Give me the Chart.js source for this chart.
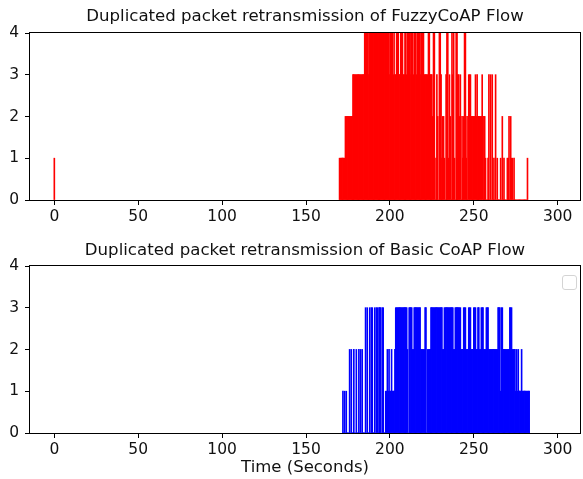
<!DOCTYPE html>
<html>
<head>
<meta charset="utf-8">
<script src="https://cdn.jsdelivr.net/npm/chart.js@4.4.1/dist/chart.umd.min.js"></script>
<style>
  html, body { margin: 0; padding: 0; background: #fff; }
  #wrap { position: relative; width: 583px; height: 479px; overflow: hidden; }
  canvas { position: absolute; left: 0; }
  #fuzzyCanvas { top: 0; }
  #basicCanvas { top: 233px; }
</style>
</head>
<body>
<div id="wrap">
  <canvas id="fuzzyCanvas" width="583" height="233" style="width:583px;height:233px"></canvas>
  <canvas id="basicCanvas" width="583" height="246" style="width:583px;height:246px"></canvas>
</div>
<script>
// Duplicated retransmissions counted in half-second slots.
const slotWidth = 0.5;          // seconds per slot
const xTicks = [0, 50, 100, 150, 200, 250, 300];
const yTicks = [0, 1, 2, 3, 4];

const fuzzyTitle = 'Duplicated packet retransmission of FuzzyCoAP Flow';
const basicTitle = 'Duplicated packet retransmission of Basic CoAP Flow';
const xAxisLabel = 'Time (Seconds)';

// FuzzyCoAP: one isolated retransmission at start-up
const fuzzyEarlyTimes = [0];
const fuzzyEarlyCounts = [1];

// FuzzyCoAP: burst starting at 170 s (one row = 5 s)
const fuzzyStart = 170;
const fuzzyCounts = [
  1,1,1,1,1,1,1,2,2,2,
  2,2,2,2,2,2,3,3,3,3,
  3,3,3,3,3,3,3,3,3,3,
  4,4,4,4,4,3,4,4,4,4,
  4,4,4,4,4,4,4,4,4,4,
  4,4,4,4,4,4,4,4,4,4,
  3,4,4,4,3,4,3,3,4,4,
  4,3,3,4,4,4,3,3,4,4,
  3,4,4,4,3,4,4,4,3,4,
  4,4,3,4,4,4,3,4,4,4,
  4,3,3,3,3,3,4,4,3,3,
  3,2,4,4,0,1,3,2,0,4,
  4,3,1,2,2,1,0,3,4,4,
  1,3,2,0,4,3,4,1,0,4,
  4,3,3,2,3,0,2,1,2,4,
  4,1,2,0,3,3,3,2,2,2,
  2,2,3,2,3,2,2,2,2,2,
  3,0,2,2,1,0,0,1,3,0,
  3,0,3,0,1,0,3,0,1,0,
  0,0,1,0,2,0,1,0,0,0,
  1,1,2,0,2,1,1,0,1,0,
  0,0,0,0,0,0,0,0,0,0,
  0,0,0,0,1
];

// Basic CoAP: burst starting at 172 s (one row = 5 s)
const basicStart = 172;
const basicCounts = [
  1,0,1,0,1,0,0,0,2,0,
  2,0,0,2,0,0,2,0,0,2,
  0,2,0,2,0,0,0,3,0,3,
  0,0,3,0,3,3,0,0,3,0,
  3,3,0,3,3,3,0,3,3,0,
  0,1,1,2,1,2,1,1,2,1,
  1,1,2,3,3,3,3,3,3,3,
  3,3,3,3,3,3,3,2,0,3,
  3,3,3,2,2,3,3,3,3,3,
  3,3,3,2,2,2,2,2,3,3,
  0,2,2,2,2,3,3,3,3,3,
  3,3,3,3,3,3,3,3,3,2,
  2,3,3,3,3,3,3,3,3,3,
  3,3,2,2,3,3,3,3,3,3,
  3,2,2,2,3,3,3,2,2,2,
  3,3,3,2,2,2,3,3,3,2,
  2,3,3,2,2,3,3,3,2,2,
  2,3,3,3,2,2,2,2,2,2,
  2,2,2,2,2,3,3,3,1,3,
  3,2,2,2,2,2,2,2,2,3,
  3,3,2,2,2,2,1,2,1,2,
  1,1,1,2,1,1,1,1,1,1,
  1,1,1
];

const fontFamily = "'DejaVu Sans', 'Liberation Sans', sans-serif";
const ink = '#111111';

function slotTimes(start, counts) {
  return counts.map((_, i) => start + i * slotWidth);
}

function toPoints(times, counts) {
  return times.map((t, i) => ({ x: t, y: counts[i] }));
}

// Box round the plotting area (all four spines)
const framePlugin = {
  id: 'frame',
  afterDatasetsDraw(chart) {
    const { ctx, chartArea: a } = chart;
    ctx.save();
    ctx.strokeStyle = '#000';
    ctx.lineWidth = 1;
    ctx.strokeRect(a.left - 0.5, a.top - 0.5, a.right - a.left + 1, a.bottom - a.top + 1);
    ctx.restore();
  }
};

// Empty legend frame in the upper-right corner
const emptyLegendPlugin = {
  id: 'emptyLegend',
  afterDraw(chart, args, opts) {
    if (!opts || !opts.show) return;
    const { ctx, chartArea: a } = chart;
    const w = 14, h = 14, r = 2.5;
    const x = a.right - 17.5, y = a.top + 9.5;
    ctx.save();
    ctx.beginPath();
    ctx.moveTo(x + r, y);
    ctx.lineTo(x + w - r, y);
    ctx.arcTo(x + w, y, x + w, y + r, r);
    ctx.lineTo(x + w, y + h - r);
    ctx.arcTo(x + w, y + h, x + w - r, y + h, r);
    ctx.lineTo(x + r, y + h);
    ctx.arcTo(x, y + h, x, y + h - r, r);
    ctx.lineTo(x, y + r);
    ctx.arcTo(x, y, x + r, y, r);
    ctx.closePath();
    ctx.fillStyle = 'rgba(255,255,255,0.8)';
    ctx.fill();
    ctx.strokeStyle = '#d4d4d4';
    ctx.lineWidth = 1;
    ctx.stroke();
    ctx.restore();
  }
};

function makeChart(canvasId, points, colour, titleText, opts) {
  const ctx = document.getElementById(canvasId).getContext('2d');
  return new Chart(ctx, {
    type: 'bar',
    data: {
      datasets: [{
        data: points,
        backgroundColor: colour,
        borderWidth: 0,
        barPercentage: 1,
        categoryPercentage: 1,
        inflateAmount: 0.4
      }]
    },
    options: {
      responsive: false,
      animation: false,
      devicePixelRatio: 1,
      events: [],
      layout: { padding: { left: 0, right: 3, top: 0, bottom: 0 } },
      plugins: {
        legend: { display: false },
        tooltip: { enabled: false },
        title: {
          display: true,
          fullSize: false,
          text: titleText,
          color: ink,
          font: { family: fontFamily, size: 16.6, weight: 'normal' },
          padding: { top: opts.titleTop, bottom: opts.titleBottom }
        },
        emptyLegend: { show: opts.emptyLegend }
      },
      scales: {
        x: {
          type: 'linear',
          offset: false,
          min: -14.5,
          max: 313.3,
          afterBuildTicks: (scale) => { scale.ticks = xTicks.map(v => ({ value: v })); },
          afterFit: (scale) => { scale.height = opts.xAxisHeight; },
          ticks: {
            color: ink,
            font: { family: fontFamily, size: 15.5 },
            padding: 3,
            maxRotation: 0,
            autoSkip: false
          },
          grid: {
            display: true,
            offset: false,
            drawOnChartArea: false,
            drawTicks: true,
            tickLength: 5,
            tickColor: '#000',
            tickWidth: 1
          },
          border: { display: false },
          title: {
            display: opts.xTitle,
            text: xAxisLabel,
            color: ink,
            font: { family: fontFamily, size: 16.5, weight: 'normal' },
            padding: { top: 0, bottom: 1 }
          }
        },
        y: {
          min: 0,
          max: 4,
          afterBuildTicks: (scale) => { scale.ticks = yTicks.map(v => ({ value: v })); },
          afterFit: (scale) => { scale.width = 30; },
          ticks: {
            color: ink,
            font: { family: fontFamily, size: 15.5 },
            padding: 6
          },
          grid: {
            display: true,
            offset: false,
            drawOnChartArea: false,
            drawTicks: true,
            tickLength: 5,
            tickColor: '#000',
            tickWidth: 1
          },
          border: { display: false }
        }
      }
    },
    plugins: [framePlugin, emptyLegendPlugin]
  });
}

const fuzzyPoints = toPoints(fuzzyEarlyTimes, fuzzyEarlyCounts)
  .concat(toPoints(slotTimes(fuzzyStart, fuzzyCounts), fuzzyCounts));
const basicPoints = toPoints(slotTimes(basicStart, basicCounts), basicCounts);

makeChart('fuzzyCanvas', fuzzyPoints, '#ff0000', fuzzyTitle,
  { titleTop: 7, titleBottom: 6.08, xAxisHeight: 33, xTitle: false, emptyLegend: false });
makeChart('basicCanvas', basicPoints, '#0000ff', basicTitle,
  { titleTop: 8, titleBottom: 5.08, xAxisHeight: 46, xTitle: true, emptyLegend: true });
</script>
</body>
</html>
